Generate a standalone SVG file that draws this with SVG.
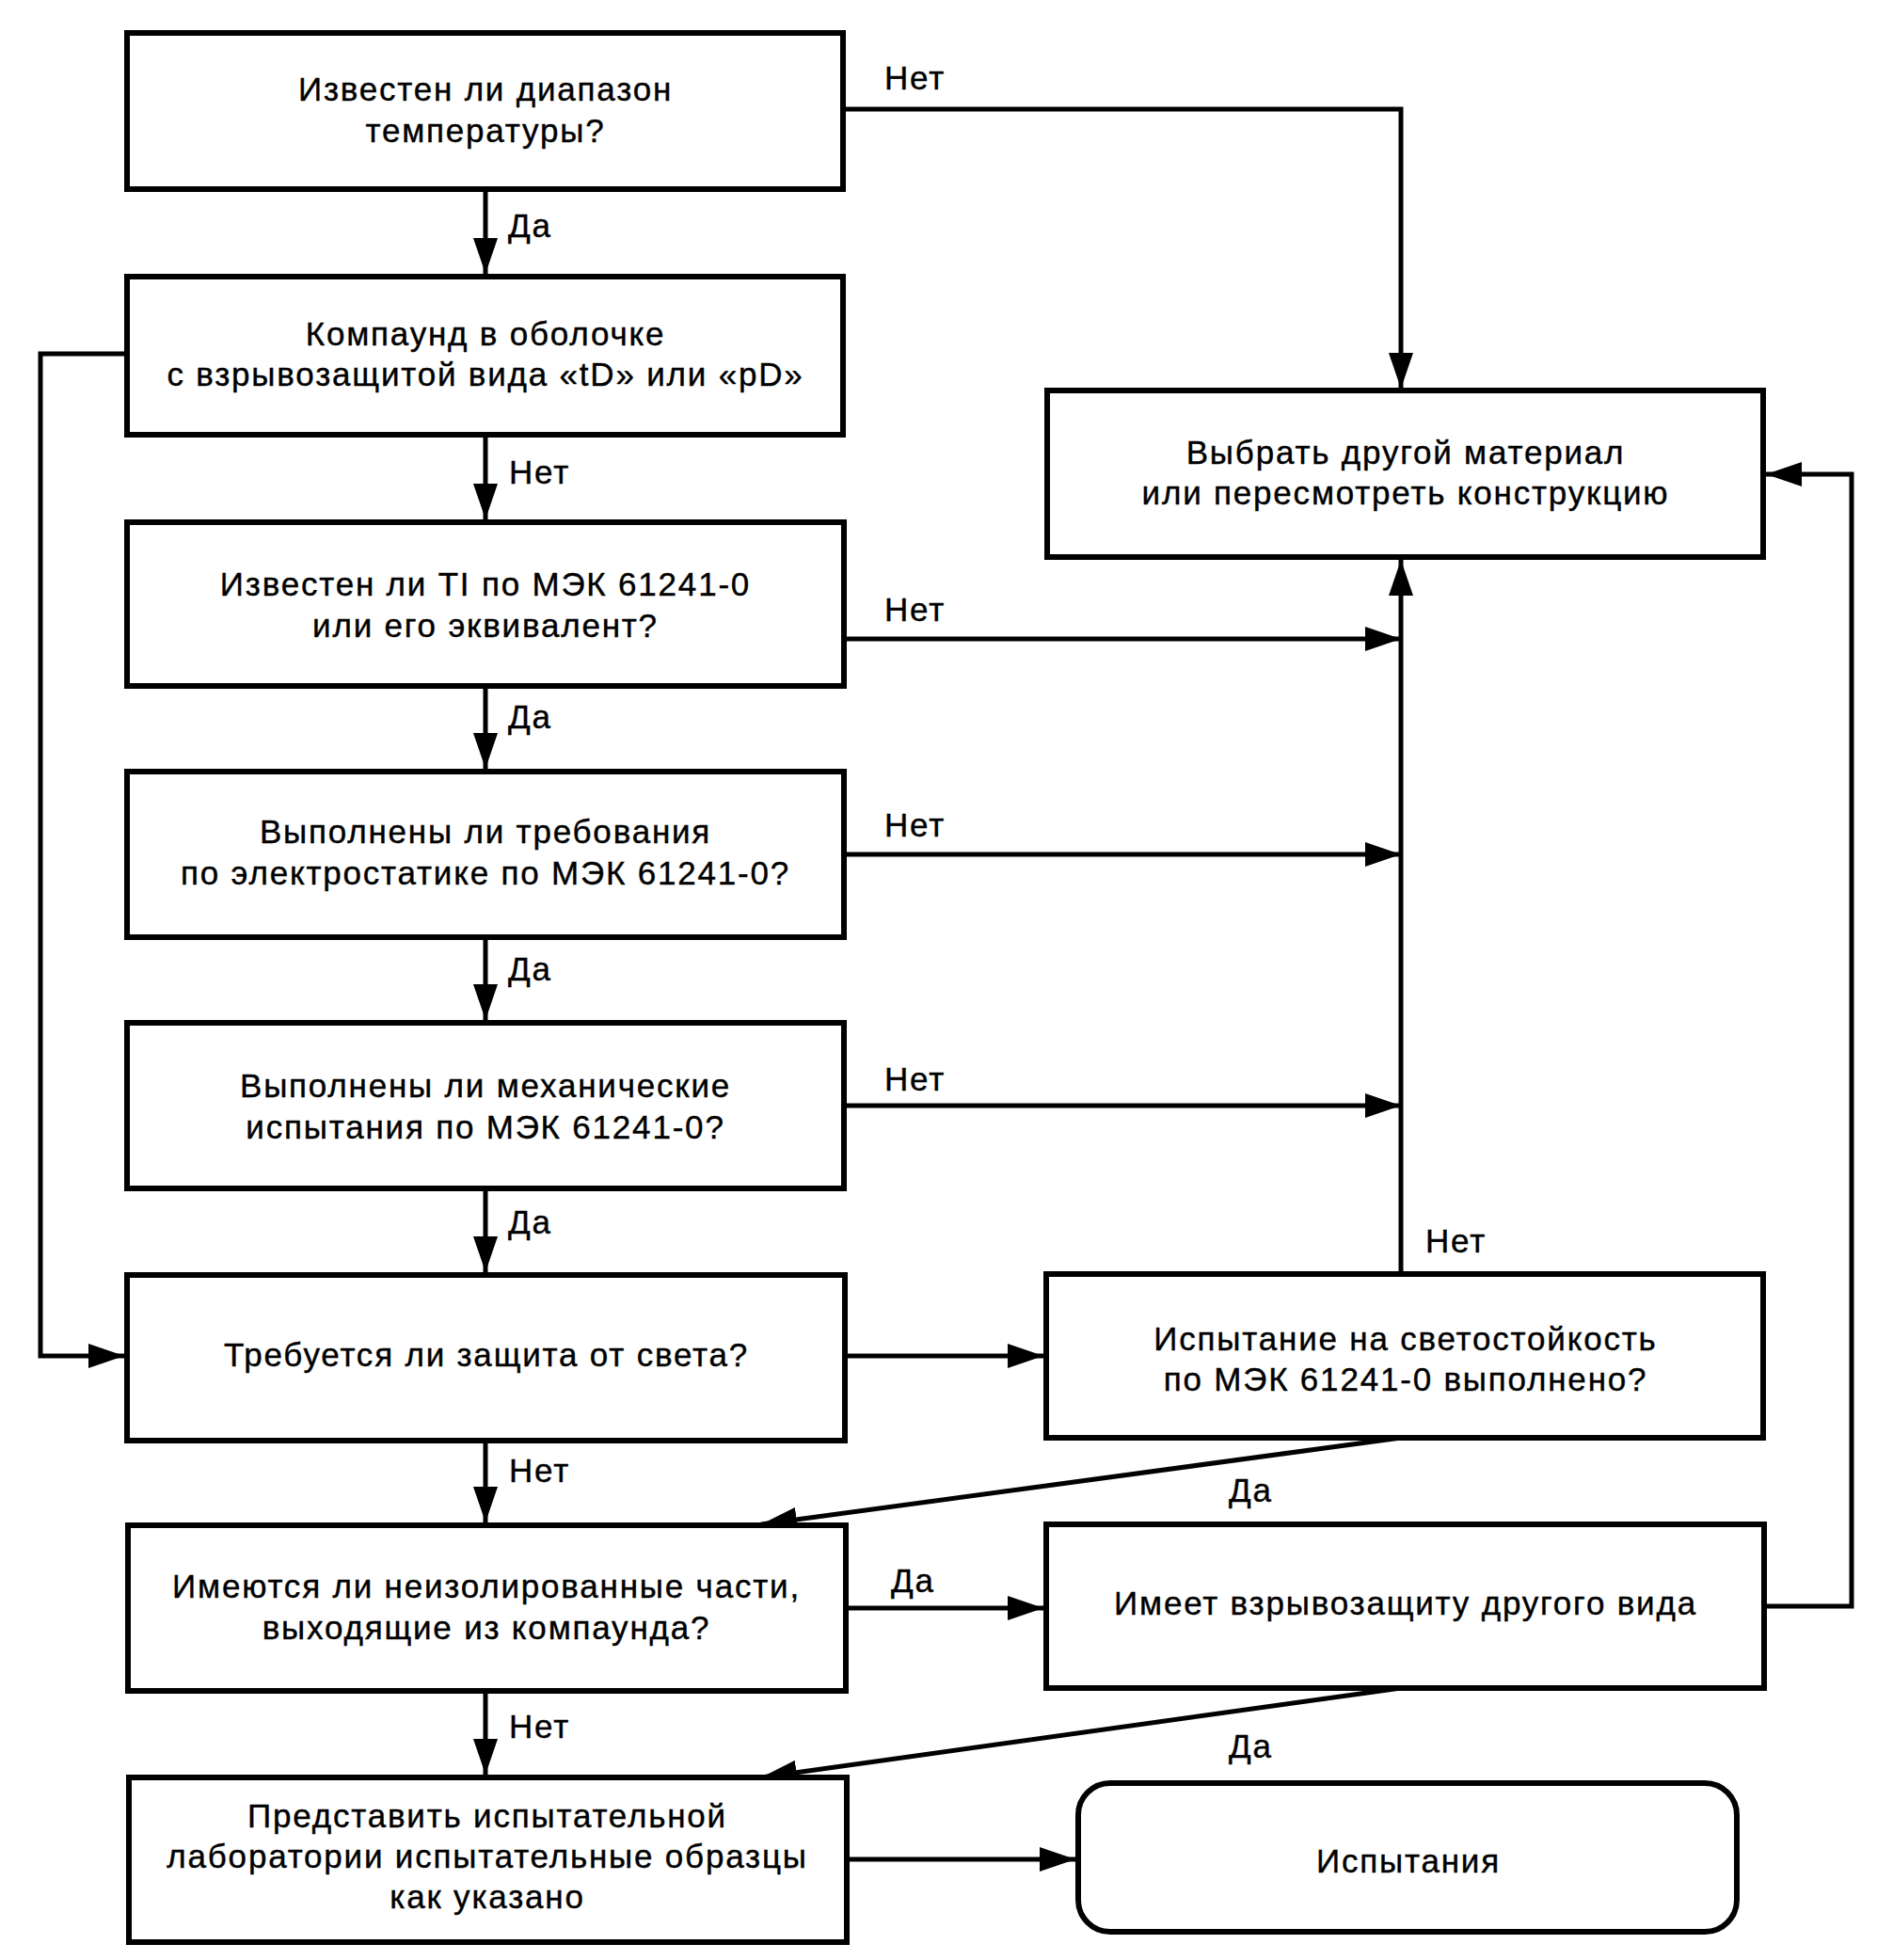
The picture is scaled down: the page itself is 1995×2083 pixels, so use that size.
<svg xmlns="http://www.w3.org/2000/svg" width="1995" height="2083" viewBox="0 0 1995 2083">
<style>
.box{fill:#fff;stroke:#000;stroke-width:6}
.ln{fill:none;stroke:#000;stroke-width:5;marker-end:url(#ah)}
text{font-family:"Liberation Sans",Arial,sans-serif;font-size:35px;letter-spacing:1.8px;fill:#000;stroke:#000;stroke-width:0.4}
.c{text-anchor:middle}
</style>
<defs>
<marker id="ah" viewBox="0 0 38 26" refX="38" refY="13" markerWidth="38" markerHeight="26" markerUnits="userSpaceOnUse" orient="auto">
<path d="M0,0 L38,13 L0,26 z" fill="#000"/>
</marker>
</defs>
<rect width="1995" height="2083" fill="#fff"/>
<g id="connectors">
<polyline class="ln" points="896,116 1489,116 1489,413"/>
<line class="ln" x1="516" y1="201" x2="516" y2="291"/>
<line class="ln" x1="516" y1="462" x2="516" y2="552"/>
<line class="ln" x1="516" y1="729" x2="516" y2="817"/>
<line class="ln" x1="516" y1="996" x2="516" y2="1084"/>
<line class="ln" x1="516" y1="1263" x2="516" y2="1352"/>
<line class="ln" x1="516" y1="1531" x2="516" y2="1618"/>
<line class="ln" x1="516" y1="1797" x2="516" y2="1886"/>
<line class="ln" x1="897" y1="679" x2="1489" y2="679"/>
<line class="ln" x1="897" y1="908" x2="1489" y2="908"/>
<line class="ln" x1="897" y1="1175" x2="1489" y2="1175"/>
<line class="ln" x1="1489" y1="1354" x2="1489" y2="595"/>
<line class="ln" x1="898" y1="1441" x2="1109" y2="1441"/>
<line class="ln" x1="1489" y1="1528" x2="809" y2="1620"/>
<line class="ln" x1="899" y1="1709" x2="1109" y2="1709"/>
<polyline class="ln" points="1874,1707 1968,1707 1968,504 1877,504"/>
<line class="ln" x1="1489" y1="1794" x2="809" y2="1889"/>
<line class="ln" x1="900" y1="1976" x2="1143" y2="1976"/>
<polyline class="ln" points="135,376 43,376 43,1441 132,1441"/>
</g>
<g id="labels">
<text x="940" y="95">Нет</text>
<text x="540" y="252">Да</text>
<text x="541" y="514">Нет</text>
<text x="940" y="660">Нет</text>
<text x="540" y="774">Да</text>
<text x="940" y="889">Нет</text>
<text x="540" y="1042">Да</text>
<text x="940" y="1159">Нет</text>
<text x="540" y="1311">Да</text>
<text x="1515" y="1331">Нет</text>
<text x="541" y="1575">Нет</text>
<text x="1306" y="1596">Да</text>
<text x="947" y="1692">Да</text>
<text x="541" y="1847">Нет</text>
<text x="1306" y="1868">Да</text>
</g>
<g id="n1">
<rect class="box" x="135" y="35" width="761" height="166"/>
<text class="c" x="516" y="107">Известен ли диапазон</text>
<text class="c" x="516" y="151">температуры?</text>
</g>
<g id="n2">
<rect class="box" x="135" y="294" width="761" height="168"/>
<text class="c" x="516" y="367">Компаунд в оболочке</text>
<text class="c" x="516" y="410">с взрывозащитой вида «tD» или «pD»</text>
</g>
<g id="n3">
<rect class="box" x="135" y="555" width="762" height="174"/>
<text class="c" x="516" y="633">Известен ли TI по МЭК 61241-0</text>
<text class="c" x="516" y="677">или его эквивалент?</text>
</g>
<g id="n4">
<rect class="box" x="135" y="820" width="762" height="176"/>
<text class="c" x="516" y="896">Выполнены ли требования</text>
<text class="c" x="516" y="940">по электростатике по МЭК 61241-0?</text>
</g>
<g id="n5">
<rect class="box" x="135" y="1087" width="762" height="176"/>
<text class="c" x="516" y="1166">Выполнены ли механические</text>
<text class="c" x="516" y="1210">испытания по МЭК 61241-0?</text>
</g>
<g id="n6">
<rect class="box" x="135" y="1355" width="763" height="176"/>
<text class="c" x="517" y="1452">Требуется ли защита от света?</text>
</g>
<g id="n7">
<rect class="box" x="136" y="1621" width="763" height="176"/>
<text class="c" x="517" y="1698">Имеются ли неизолированные части,</text>
<text class="c" x="517" y="1742">выходящие из компаунда?</text>
</g>
<g id="n8">
<rect class="box" x="137" y="1889" width="763" height="175"/>
<text class="c" x="518" y="1942">Представить испытательной</text>
<text class="c" x="518" y="1985">лаборатории испытательные образцы</text>
<text class="c" x="518" y="2028">как указано</text>
</g>
<g id="n9">
<rect class="box" x="1113" y="415" width="761" height="177"/>
<text class="c" x="1494" y="493">Выбрать другой материал</text>
<text class="c" x="1494" y="536">или пересмотреть конструкцию</text>
</g>
<g id="n10">
<rect class="box" x="1112" y="1354" width="762" height="174"/>
<text class="c" x="1494" y="1435">Испытание на светостойкость</text>
<text class="c" x="1494" y="1478">по МЭК 61241-0 выполнено?</text>
</g>
<g id="n11">
<rect class="box" x="1112" y="1620" width="763" height="174"/>
<text class="c" x="1494" y="1716">Имеет взрывозащиту другого вида</text>
</g>
<g id="n12">
<rect class="box" x="1146" y="1895" width="700" height="158" rx="34" ry="34"/>
<text class="c" x="1497" y="1990">Испытания</text>
</g>
</svg>
